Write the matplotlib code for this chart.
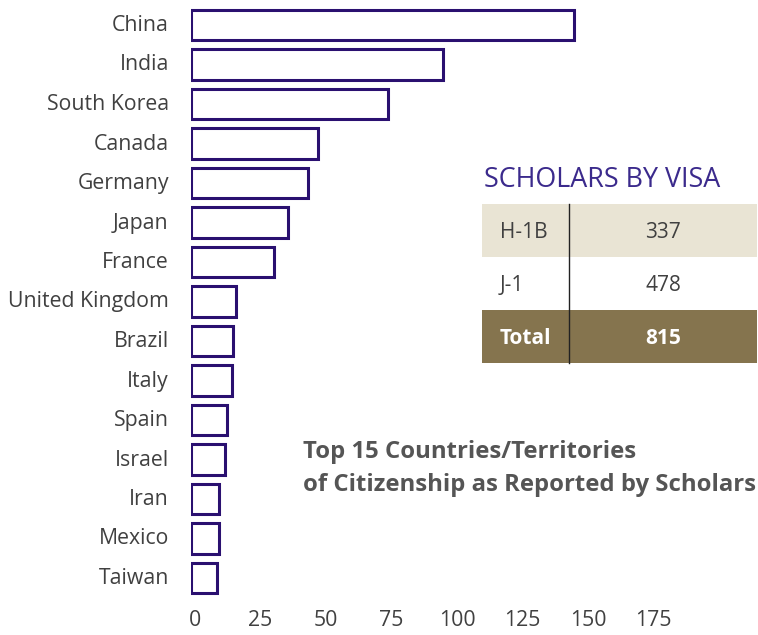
import matplotlib
matplotlib.use("Agg")
import matplotlib.pyplot as plt
from matplotlib.patches import Rectangle
from matplotlib.lines import Line2D
from matplotlib.transforms import ScaledTranslation

plt.rcParams['font.family'] = ['Open Sans', 'DejaVu Sans']

countries = ["China", "India", "South Korea", "Canada", "Germany", "Japan", "France",
             "United Kingdom", "Brazil", "Italy", "Spain", "Israel", "Iran", "Mexico", "Taiwan"]
scholars = [146, 96, 75, 48.5, 44.5, 37, 31.5, 17, 16, 15.5, 13.7, 13, 10.7, 10.7, 10]
xticks = [0, 25, 50, 75, 100, 125, 150, 175]

visa_types = ["H-1B", "J-1"]
visa_counts = [337, 478]
total_label = "Total"
total_count = sum(visa_counts)

W, H = 758, 635
fig = plt.figure(figsize=(W/100, H/100), dpi=100)

x0px = 191
scale = 2.62
xmax = 190
ax = fig.add_axes([x0px/W, 1 - 597.75/H, xmax*scale/W, (597.75-5.25)/H])
bar_color = "#2a1070"
ypos = list(range(len(countries)))
ax.barh(ypos, scholars, height=0.78, facecolor="white", edgecolor=bar_color, linewidth=2.2)
ax.set_ylim(len(countries)-0.5, -0.5)
ax.set_xlim(0, xmax)
ax.set_yticks(ypos)
ax.set_yticklabels(countries, fontsize=15.3, color="#404040")
ax.set_xticks(xticks)
ax.set_xticklabels([str(t) for t in xticks], fontsize=15.3, color="#404040")
ax.tick_params(axis='y', length=0, pad=16)
ax.tick_params(axis='x', length=0, pad=9)
off = ScaledTranslation(0, 2/100, fig.dpi_scale_trans)
for lab in ax.get_yticklabels():
    lab.set_transform(lab.get_transform() + off)
offx = ScaledTranslation(4/100, 0, fig.dpi_scale_trans)
for lab in ax.get_xticklabels():
    lab.set_transform(lab.get_transform() + offx)
for s in ax.spines.values():
    s.set_visible(False)

def fx(x): return x / W
def fy(y): return 1 - y / H

# Table title
fig.text(fx(484), fy(180), "SCHOLARS BY VISA", fontsize=19.4, color="#3b2a8c",
         ha="left", va="center")

# Table
tx0, tx1, tdiv = 482, 757, 569
row_h = 53
ty0 = 204
row_colors = ["#e9e4d4", "white", "#85744e"]
labels = visa_types + [total_label]
values = [str(v) for v in visa_counts] + [str(total_count)]
for i in range(3):
    top = ty0 + i*row_h
    fig.patches.append(Rectangle((fx(tx0), fy(top+row_h)), fx(tx1-tx0), row_h/H,
                                 transform=fig.transFigure, facecolor=row_colors[i],
                                 edgecolor="none", zorder=1))
    cy = top + row_h/2 + 2
    bold = (i == 2)
    col = "white" if bold else "#404040"
    fig.text(fx(500), fy(cy), labels[i], fontsize=15, color=col, ha="left", va="center",
             fontweight="bold" if bold else "normal", zorder=3)
    fig.text(fx(663), fy(cy), values[i], fontsize=15, color=col, ha="center", va="center",
             fontweight="bold" if bold else "normal", zorder=3)
fig.lines.append(Line2D([fx(tdiv), fx(tdiv)], [fy(ty0), fy(ty0+3*row_h)],
                        transform=fig.transFigure, color="#222222", linewidth=1.0, zorder=2))

# Chart caption
fig.text(fx(303), fy(452), "Top 15 Countries/Territories", fontsize=17.2, fontweight="bold",
         color="#555555", ha="left", va="center")
fig.text(fx(303), fy(485), "of Citizenship as Reported by Scholars", fontsize=17.2,
         fontweight="bold", color="#555555", ha="left", va="center")

fig.savefig("out.png", dpi=100)
